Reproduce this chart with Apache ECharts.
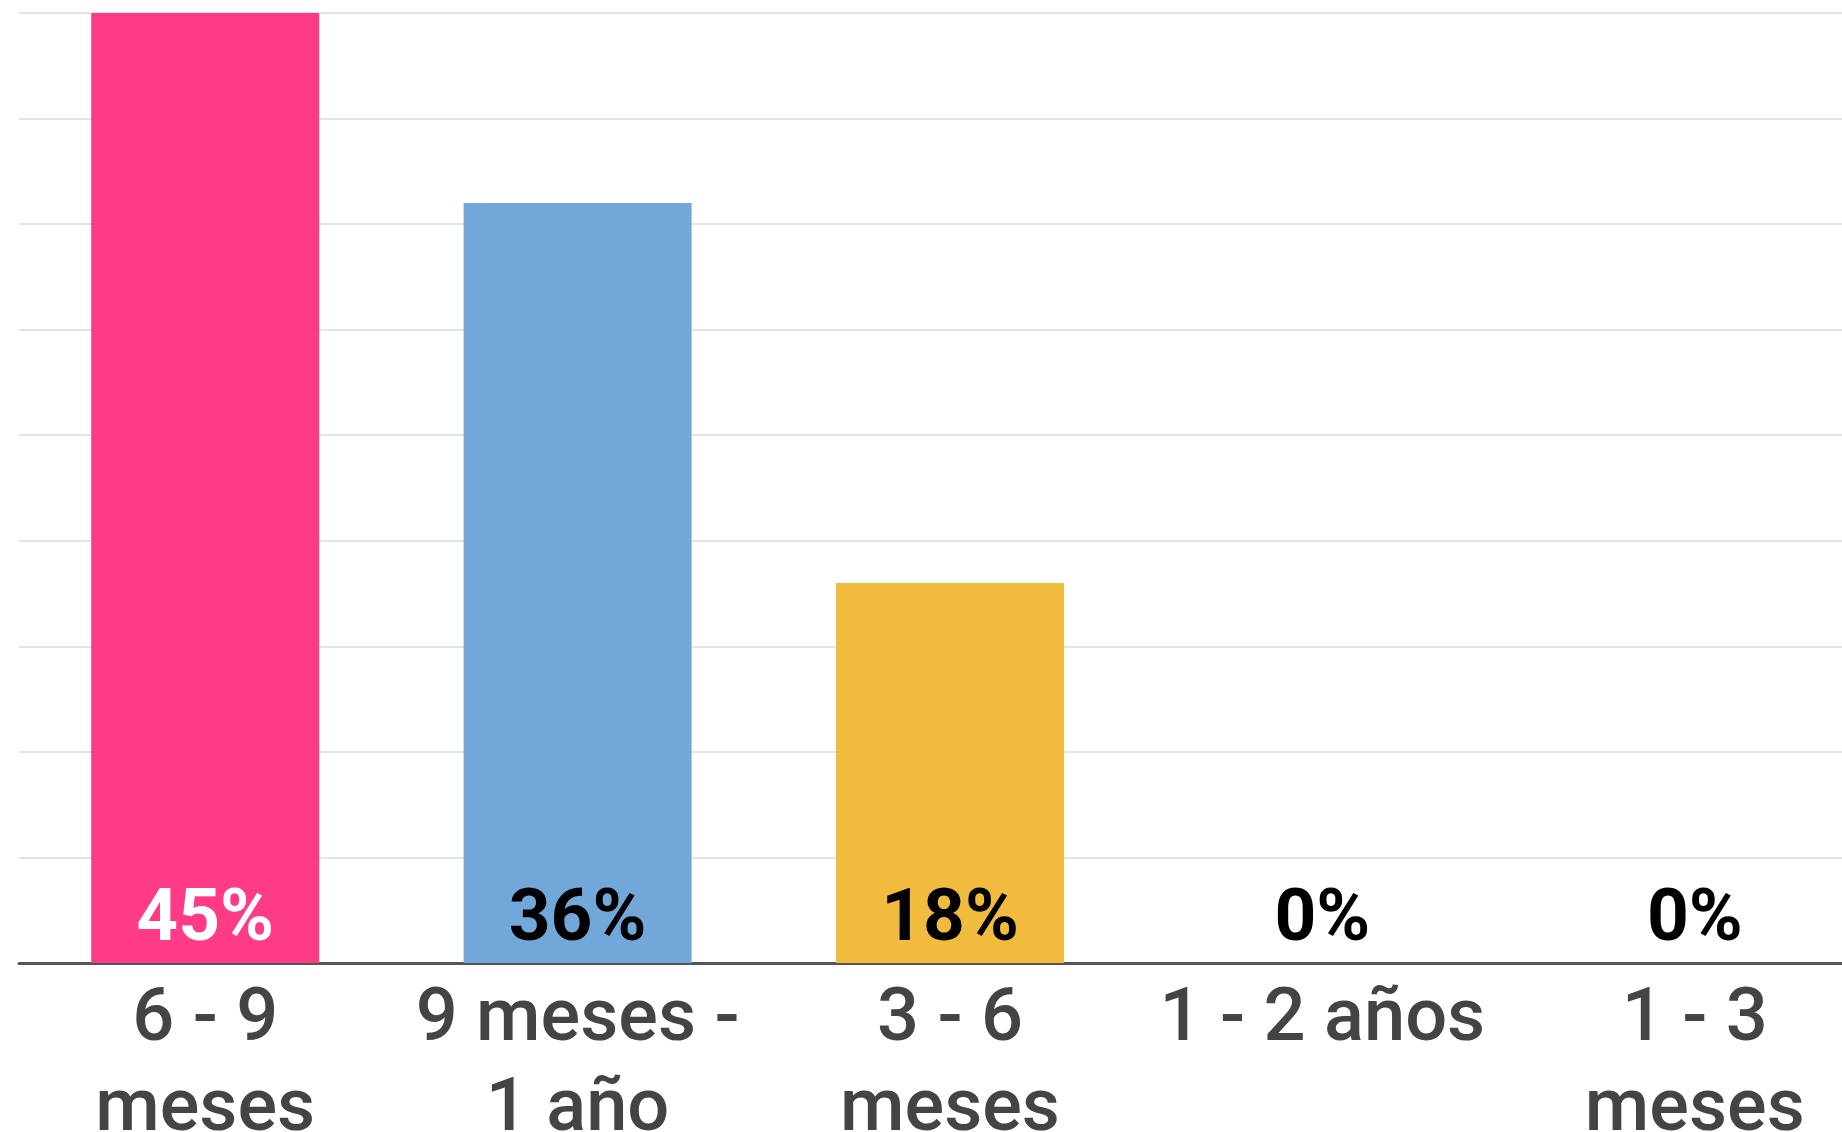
<!DOCTYPE html>
<html>
<head>
<meta charset="utf-8">
<script src="https://cdn.jsdelivr.net/npm/echarts@6/dist/echarts.min.js"></script>
<style>
html,body{margin:0;padding:0;background:#fff;}
#chart{width:1842px;height:1132px;}
</style>
</head>
<body>
<div id="chart"></div>
<script>
const categories = ["6 - 9\nmeses", "9 meses -\n1 año", "3 - 6\nmeses", "1 - 2 años", "1 - 3\nmeses"];
const values = [45, 36, 18, 0, 0];
const barColors = ["#FF3B88", "#72A7DA", "#F1BC3E", "#9E9E9E", "#9E9E9E"];
const labelColors = ["#FFFFFF", "#000000", "#000000", "#000000", "#000000"];

const chart = echarts.init(document.getElementById('chart'));
chart.setOption({
  animation: false,
  backgroundColor: '#fff',
  grid: { left: 19, top: 13, width: 1862, bottom: 169, containLabel: false, outerBoundsMode: 'none' },
  xAxis: {
    type: 'category',
    data: categories,
    axisTick: { show: false },
    axisLine: { lineStyle: { color: '#555', width: 3 } },
    axisLabel: {
      color: '#444',
      fontFamily: 'Roboto',
      fontWeight: 500,
      fontSize: 74,
      lineHeight: 90,
      margin: 13,
      interval: 0
    }
  },
  yAxis: {
    type: 'value',
    min: 0, max: 45, interval: 5,
    axisLabel: { show: false },
    axisLine: { show: false },
    axisTick: { show: false },
    splitLine: { lineStyle: { color: '#e4e4e4', width: 2 } }
  },
  series: [{
    type: 'bar',
    barWidth: 228,
    data: values.map((v, i) => ({
      value: v,
      itemStyle: { color: barColors[i] },
      label: { color: labelColors[i] }
    })),
    label: {
      show: true,
      position: 'insideBottom',
      distance: 5,
      formatter: '{c}%',
      fontFamily: 'Roboto',
      fontWeight: 'bold',
      fontSize: 73
    }
  }]
});
</script>
</body>
</html>
